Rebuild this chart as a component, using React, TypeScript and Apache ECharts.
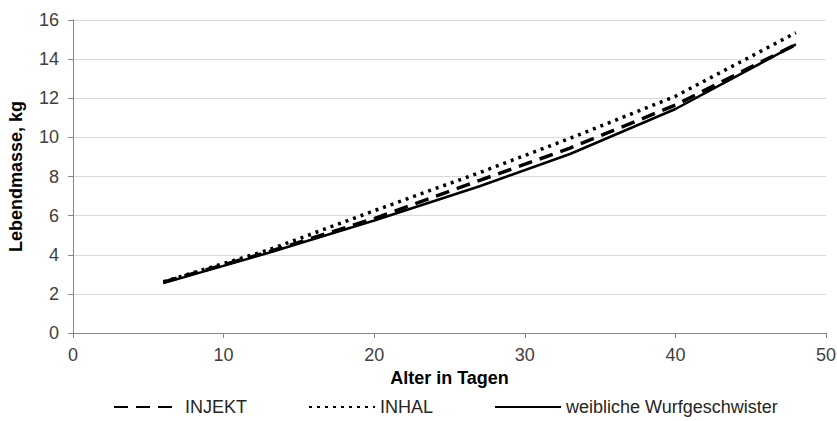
import React, { useEffect, useRef } from "react";
import * as echarts from "echarts";

const days = [6, 13, 20, 27, 33, 40, 48];
const injekt = [2.6, 4.15, 5.85, 7.8, 9.45, 11.65, 14.75];
const inhal = [2.62, 4.25, 6.25, 8.2, 9.95, 12.1, 15.35];
const wurf = [2.55, 4.1, 5.75, 7.5, 9.15, 11.45, 14.75];
const seriesNames = ["INJEKT", "INHAL", "weibliche Wurfgeschwister"];
const xTitle = "Alter in Tagen";
const yTitle = "Lebendmasse, kg";

const FONT = "Liberation Sans, Arial, sans-serif";

export default function App() {
  const ref = useRef<HTMLDivElement>(null);
  useEffect(() => {
    if (!ref.current) return;
    const chart = echarts.init(ref.current, undefined, { renderer: "svg" });
    const pairs = (vals: number[]) => days.map((d, i) => [d, vals[i]]);
    chart.setOption({
      animation: false,
      textStyle: { fontFamily: FONT },
      grid: { left: 73, right: 11, top: 20, bottom: 88, outerBoundsMode: "none", containLabel: false },
      legend: {
        left: 113,
        top: 398,
        padding: 0,
        itemWidth: 66,
        itemHeight: 14,
        itemGap: 61,
        itemStyle: { opacity: 0 },
        textStyle: { fontSize: 18, lineHeight: 18, color: "#262626", fontFamily: FONT },
        data: seriesNames,
      },
      xAxis: {
        type: "value",
        min: 0,
        max: 50,
        interval: 10,
        name: xTitle,
        nameLocation: "middle",
        nameGap: 36,
        nameTextStyle: { fontSize: 18, fontWeight: "bold", color: "#000", fontFamily: FONT },
        axisLine: { show: true, lineStyle: { color: "#868686", width: 1 } },
        axisTick: { show: true, length: 5, lineStyle: { color: "#868686" } },
        axisLabel: { fontSize: 18, color: "#404040", margin: 13, fontFamily: FONT },
        splitLine: { show: false },
      },
      yAxis: {
        type: "value",
        min: 0,
        max: 16,
        interval: 2,
        name: yTitle,
        nameLocation: "middle",
        nameGap: 48,
        nameTextStyle: { fontSize: 18, fontWeight: "bold", color: "#000", fontFamily: FONT },
        axisLine: { show: true, lineStyle: { color: "#868686", width: 1 } },
        axisTick: { show: true, length: 5, lineStyle: { color: "#868686" } },
        axisLabel: { fontSize: 18, color: "#404040", margin: 14, fontFamily: FONT },
        splitLine: { show: true, lineStyle: { color: "#d9d9d9", width: 1 } },
      },
      series: [
        {
          name: seriesNames[0],
          type: "line",
          data: pairs(injekt),
          symbol: "none",
          lineStyle: { color: "#000", width: 3.5, type: [14, 8] },
          itemStyle: { color: "#000" },
        },
        {
          name: seriesNames[1],
          type: "line",
          data: pairs(inhal),
          symbol: "none",
          lineStyle: { color: "#000", width: 3.5, type: [3, 5] },
          itemStyle: { color: "#000" },
        },
        {
          name: seriesNames[2],
          type: "line",
          data: pairs(wurf),
          symbol: "none",
          lineStyle: { color: "#000", width: 2.5, type: "solid" },
          itemStyle: { color: "#000" },
        },
      ],
    });
    return () => chart.dispose();
  }, []);
  return (
    <div
      ref={ref}
      style={{ position: "fixed", left: 0, top: 0, width: 837, height: 421, background: "#fff" }}
    />
  );
}
